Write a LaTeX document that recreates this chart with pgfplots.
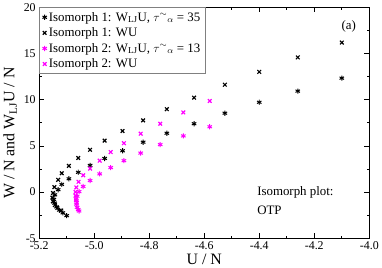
\documentclass[border=0pt]{standalone}
\usepackage{fontspec}
\setmainfont{Liberation Serif}
\usepackage{pgfplots}
\pgfplotsset{compat=1.18}
\definecolor{mag}{RGB}{255,0,255}
\begin{document}
\begin{tikzpicture}
\begin{axis}[
  scale only axis,
  width=333pt, height=233pt,
  xmin=-5.2, xmax=-4.0, ymin=-5, ymax=20,
  xtick={-5.2,-5.0,...,-4.0},
  xticklabels={-5.2,-5.0,-4.8,-4.6,-4.4,-4.2,-4.0},
  ytick={-5,0,5,10,15,20},
  minor x tick num=1, minor y tick num=1,
  tick align=inside,
  major tick length=5pt, minor tick length=2.5pt,
  tick style={black, line width=0.6pt},
  axis line style={line width=0.8pt},
  /pgf/number format/assume math mode=true,
  ticklabel style={font=\fontsize{12}{14}\selectfont},
  xlabel={U / N},
  ylabel={W / N and W$_{\mathrm{LJ}}$U / N},
  label style={font=\fontsize{16}{18}\selectfont},
  xlabel style={at={(axis description cs:0.5,-0.09)}, anchor=center},
  ylabel style={at={(axis description cs:-0.088,0.455)}, anchor=center},
  legend style={at={(0,1)}, anchor=north west, draw=gray, line width=0.6pt,
    font=\fontsize{13}{15}\selectfont, row sep=1.2pt, inner xsep=3pt, inner ysep=2.5pt},
  legend cell align=left,
  clip=false,
]
\addplot[only marks, mark=asterisk, mark size=2.6pt, black, line width=1pt] coordinates {
(-4.10,12.33) (-4.26,10.93) (-4.40,9.72) (-4.525,8.54) (-4.637,7.40) (-4.736,6.37)
(-4.822,5.40) (-4.897,4.47) (-4.962,3.64) (-5.015,2.89) (-5.058,2.14) (-5.092,1.44)
(-5.118,0.83) (-5.131,0.26) (-5.143,-0.30) (-5.147,-0.80) (-5.144,-1.20) (-5.137,-1.60)
(-5.127,-1.95) (-5.114,-2.25) (-5.100,-2.55)
};
\addlegendentry{Isomorph 1: W$_{\mathrm{LJ}}$U, $\tau^{\sim}{}_{\alpha}$ = 35}
\addplot[only marks, mark=x, mark size=2.6pt, black, line width=1.2pt] coordinates {
(-4.10,16.18) (-4.26,14.58) (-4.40,13.01) (-4.525,11.62) (-4.637,10.22) (-4.736,8.97)
(-4.822,7.76) (-4.897,6.61) (-4.962,5.57) (-5.015,4.58) (-5.058,3.69) (-5.092,2.83)
(-5.118,2.04) (-5.131,1.33) (-5.145,0.54) (-5.150,-0.10) (-5.152,-0.60) (-5.150,-1.00)
(-5.143,-1.40) (-5.134,-1.70) (-5.120,-2.00)
};
\addlegendentry{Isomorph 1: WU}
\addplot[only marks, mark=asterisk, mark size=2.6pt, mag, line width=1pt] coordinates {
(-4.58,7.07) (-4.676,6.08) (-4.76,5.14) (-4.831,4.22) (-4.892,3.40) (-4.94,2.65)
(-4.98,1.97) (-5.015,1.25) (-5.040,0.61) (-5.055,0.05) (-5.062,-0.45) (-5.065,-0.90)
(-5.065,-1.30) (-5.062,-1.65) (-5.058,-1.90) (-5.055,-2.05)
};
\addlegendentry{Isomorph 2: W$_{\mathrm{LJ}}$U, $\tau^{\sim}{}_{\alpha}$ = 13}
\addplot[only marks, mark=x, mark size=2.6pt, mag, line width=1.2pt] coordinates {
(-4.58,9.86) (-4.676,8.62) (-4.76,7.40) (-4.831,6.32) (-4.892,5.29) (-4.94,4.33)
(-4.98,3.40) (-5.015,2.54) (-5.040,1.82) (-5.057,1.11) (-5.065,0.50) (-5.068,0.00)
(-5.068,-0.40) (-5.066,-0.80) (-5.063,-1.15)
};
\addlegendentry{Isomorph 2: WU}
\node[anchor=west, font=\fontsize{13}{15}\selectfont] at (axis cs:-4.42,0) {Isomorph plot:};
\node[anchor=west, font=\fontsize{13}{15}\selectfont] at (axis cs:-4.42,-1.95) {OTP};
\node[font=\fontsize{13}{15}\selectfont] at (axis cs:-4.075,17.97) {(a)};
\end{axis}
\end{tikzpicture}
\end{document}
